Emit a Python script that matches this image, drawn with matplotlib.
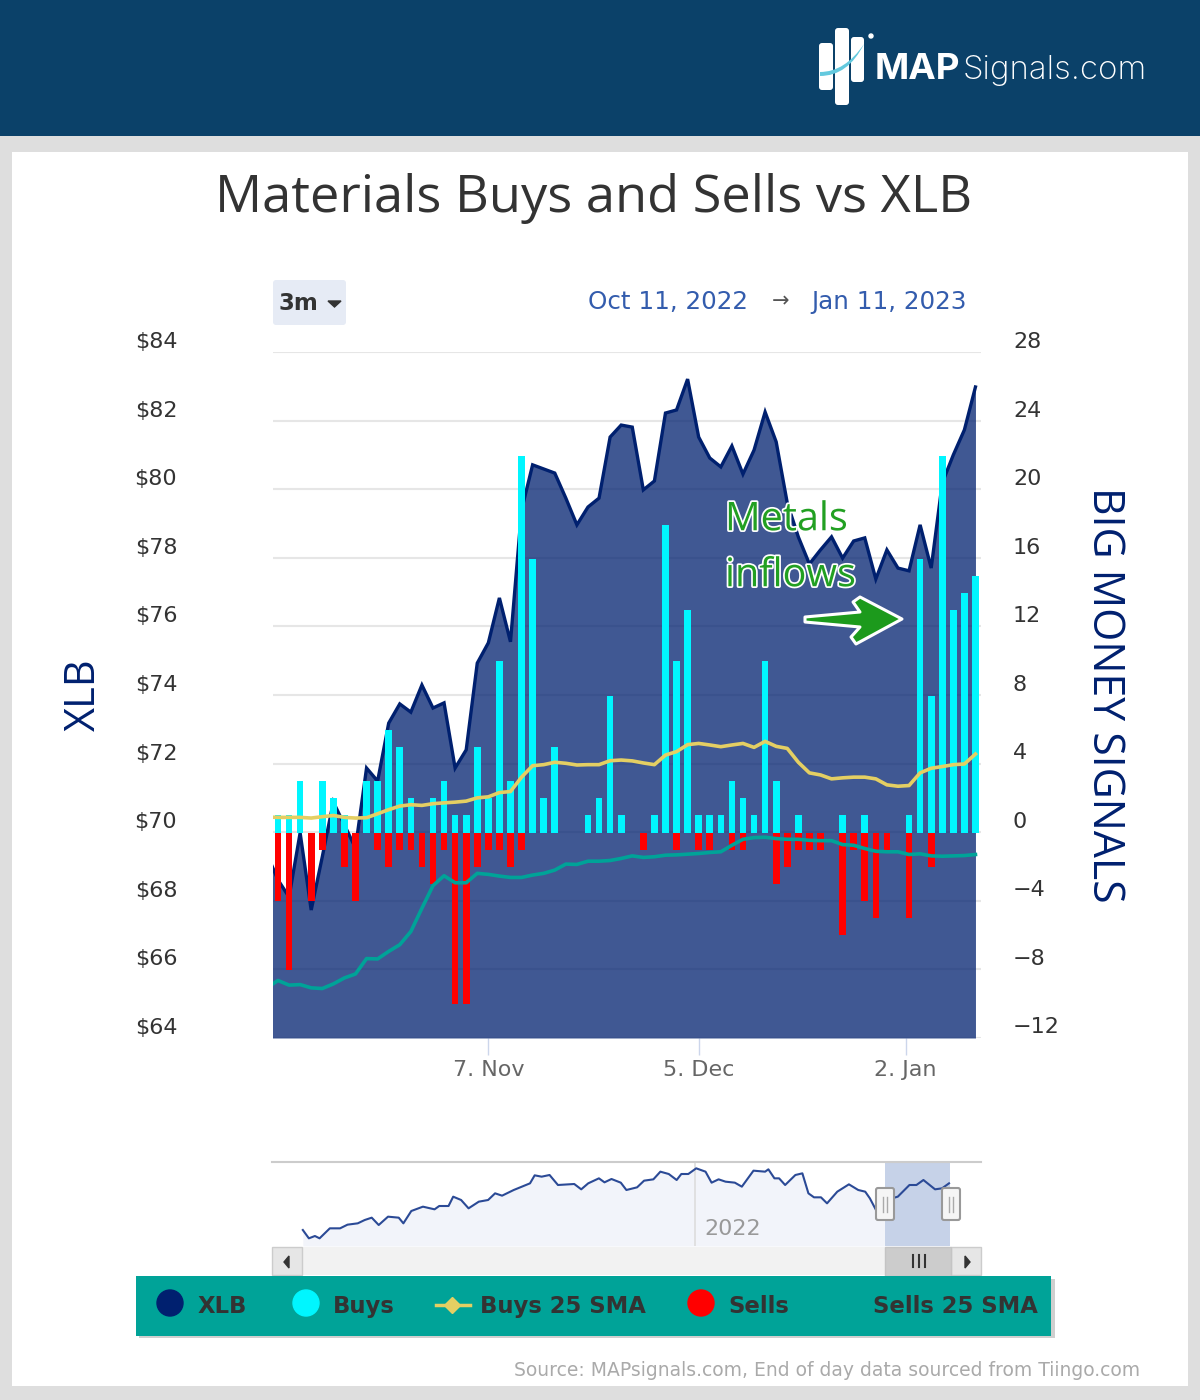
import numpy as np
import matplotlib
matplotlib.use("Agg")
import matplotlib.pyplot as plt
import matplotlib.patheffects as pe
from matplotlib.patches import Rectangle, FancyBboxPatch, Polygon, Circle, PathPatch
from matplotlib.path import Path
from matplotlib.transforms import ScaledTranslation

# trading day index, -1 is the day just left of the visible range
days = list(range(-1, 64))

xlb = [69.36, 68.61, 68.11, 69.98, 67.73, 69.28, 70.88, 70.21, 69.54, 71.87, 71.49,
       73.18, 73.74, 73.50, 74.29, 73.62, 73.77, 71.87, 72.40, 74.93, 75.52,
       76.83, 75.55, 79.39, 80.71, 80.59, 80.47, 79.74, 78.96, 79.48, 79.74,
       81.52, 81.87, 81.81, 79.98, 80.24, 82.22, 82.31, 83.21, 81.52, 80.91,
       80.65, 81.26, 80.44, 81.14, 82.25, 81.38, 79.60, 78.61, 77.82, 78.23,
       78.61, 77.99, 78.49, 78.58, 77.38, 78.23, 77.70, 77.62, 78.96, 77.70,
       80.18, 81.00, 81.73, 82.98]

buys = [1, 1, 3, 0, 3, 2, 1, 0, 3, 3, 6, 5, 2, 0, 2, 3, 1, 1, 5, 2,
        10, 3, 22, 16, 2, 5, 0, 0, 1, 2, 8, 1, 0, 0, 1, 18, 10, 13, 1, 1,
        1, 3, 2, 1, 10, 3, 0, 1, 0, 0, 0, 1, 0, 1, 0, 0, 0, 1, 16, 8,
        22, 13, 14, 15]

sells = [4, 8, 0, 4, 1, 0, 2, 4, 0, 1, 2, 1, 1, 2, 3, 1, 10, 10, 2, 1,
         1, 2, 1, 0, 0, 0, 0, 0, 0, 0, 0, 0, 0, 1, 0, 0, 1, 0, 1, 1,
         0, 1, 1, 0, 0, 3, 2, 1, 1, 1, 0, 6, 1, 4, 5, 1, 0, 5, 0, 2,
         0, 0, 0, 0]

buys_sma = [0.91, 0.89, 0.89, 0.89, 0.85, 0.93, 1.00, 0.89, 0.85, 0.87, 1.10,
            1.34, 1.55, 1.63, 1.59, 1.69, 1.74, 1.78, 1.84, 2.03, 2.09,
            2.34, 2.40, 3.24, 3.91, 3.97, 4.11, 4.05, 3.95, 3.97, 3.97,
            4.20, 4.24, 4.19, 4.07, 3.97, 4.53, 4.73, 5.14, 5.21, 5.12,
            5.02, 5.12, 5.21, 4.98, 5.33, 5.04, 4.92, 4.11, 3.49, 3.37,
            3.14, 3.20, 3.24, 3.24, 3.14, 2.79, 2.71, 2.75, 3.49, 3.76,
            3.86, 3.97, 4.01, 4.59]

sells_sma = [-9.07, -8.64, -8.91, -8.88, -9.07, -9.11, -8.84, -8.49, -8.26, -7.36, -7.38,
             -6.94, -6.55, -5.78, -4.42, -3.10, -2.52, -2.93, -2.93, -2.38, -2.44,
             -2.54, -2.62, -2.62, -2.48, -2.38, -2.19, -1.84, -1.86, -1.67, -1.67,
             -1.63, -1.51, -1.36, -1.45, -1.41, -1.32, -1.30, -1.26, -1.22, -1.16,
             -1.12, -0.74, -0.39, -0.29, -0.27, -0.35, -0.39, -0.39, -0.45, -0.47,
             -0.47, -0.70, -0.74, -0.93, -1.09, -1.12, -1.12, -1.28, -1.24, -1.36,
             -1.38, -1.36, -1.34, -1.28]

xlb_ticks = [64, 66, 68, 70, 72, 74, 76, 78, 80, 82, 84]
signal_ticks = [-12, -8, -4, 0, 4, 8, 12, 16, 20, 24, 28]
date_ticks = [19, 38, 56.7]
date_labels = ["7. Nov", "5. Dec", "2. Jan"]

# navigator: position along the ordinal axis and relative XLB level
nav_pos = [92, 105, 118, 128, 150, 172, 188, 210, 225, 240, 255, 275, 298, 308, 325, 350,
           375, 385, 405, 415, 432, 448, 470, 490, 505, 520, 545, 580, 590, 605, 622, 640,
           675, 690, 705, 728, 740, 755, 775, 787, 810, 825, 845, 860, 878, 895, 905, 920,
           937, 957, 970, 985, 1000, 1020, 1035, 1060, 1085, 1092, 1105, 1115, 1128, 1150,
           1165, 1178, 1190, 1205, 1218, 1240, 1265, 1285, 1300, 1310, 1325, 1345, 1370,
           1395, 1410, 1425, 1450, 1465, 1480]
nav_level = [60, 35, 42, 35, 65, 65, 76, 80, 90, 97, 75, 100, 97, 80, 117, 130,
             122, 132, 132, 160, 150, 125, 145, 150, 170, 163, 180, 200, 224, 220, 225, 195,
             198, 182, 200, 215, 203, 213, 202, 180, 188, 208, 212, 235, 228, 210, 228, 228,
             245, 235, 202, 212, 205, 202, 190, 238, 235, 242, 215, 215, 195, 225,
             230, 170, 158, 158, 140, 175, 197, 180, 175, 155, 115, 150, 160,
             195, 195, 210, 182, 185, 200]

NAVY = "#00206f"
CYAN = "#00f6ff"
RED = "#ff0000"
GOLD = "#e4cf63"
TEAL = "#00a398"
W, H = 1200, 1400


def rect(px, py, pw, ph):
    # pixel box (top-left origin) to figure fractions
    return [px / W, 1 - (py + ph) / H, pw / W, ph / H]


fig = plt.figure(figsize=(12, 14), dpi=100, facecolor="#dedede")

# page furniture sits on a pixel axes behind the chart
bg = fig.add_axes([0, 0, 1, 1], zorder=0)
bg.set_xlim(0, W)
bg.set_ylim(H, 0)
bg.axis("off")
bg.add_patch(Rectangle((0, 0), W, 136, color="#0b4169", lw=0))
bg.add_patch(Rectangle((12, 152), 1176, 1234, color="white", lw=0))
bg.add_patch(FancyBboxPatch((276, 283), 67, 39, boxstyle="round,pad=3", fc="#e6ebf5", ec="none"))

# main chart
ax = fig.add_axes(rect(273, 352, 708, 686), zorder=1)
ax.patch.set_visible(False)
ax.set_xlim(-0.45, 63.5)
ax.set_ylim(64, 84)
ax.set_yticks(xlb_ticks)
ax.set_yticklabels(["$%d" % v for v in xlb_ticks])
ax.grid(axis="y", color="#e6e6e6", lw=1.5)
ax.set_axisbelow(True)
for s in ax.spines.values():
    s.set_visible(False)
ax.fill_between(days, xlb, 64, color=NAVY, alpha=0.75, lw=0, zorder=2)
ax.plot(days, xlb, color=NAVY, lw=2.4, zorder=3, solid_joinstyle="miter")
ax.set_xticks(date_ticks)
ax.set_xticklabels(date_labels)
ax.tick_params(axis="x", length=12, width=1, color="#ccd6eb", pad=4, labelsize=16, labelcolor="#666666")
ax.tick_params(axis="y", length=0, pad=69, labelsize=16, labelcolor="#333333")

ax2 = ax.twinx()
ax2.set_zorder(2)
ax2.patch.set_visible(False)
ax2.set_ylim(-11.8, 28.08)
ax2.set_yticks(signal_ticks)
ax2.set_yticklabels([str(v).replace("-", "\u2212") for v in signal_ticks])
ax2.tick_params(axis="y", length=0, pad=23, labelsize=16, labelcolor="#333333")
for s in ax2.spines.values():
    s.set_visible(False)
bar_x = days[1:]
ax2.bar(bar_x, buys, width=0.6, color=CYAN, lw=0, zorder=3)
ax2.bar(bar_x, [-v for v in sells], width=0.6, color=RED, lw=0, zorder=3)
ax2.plot(days, buys_sma, color=GOLD, lw=2.6, zorder=4)
ax2.plot(days, sells_sma, color=TEAL, lw=2.6, zorder=4)

# axis labels sit just above their gridlines
up = ScaledTranslation(0, 12 / 100, fig.dpi_scale_trans)
for lb in ax.get_yticklabels():
    lb.set_transform(lb.get_transform() + up)
up2 = ScaledTranslation(0, 13 / 100, fig.dpi_scale_trans)
for lb in ax2.get_yticklabels():
    lb.set_transform(lb.get_transform() + up2)

# navigator
nav = fig.add_axes(rect(272, 1162, 709, 84), zorder=1)
nav.patch.set_visible(False)
nav.set_xlim(25.8, 1548.7)
nav.set_ylim(12, 264)
nav.set_xticks([])
nav.set_yticks([])
for k in ["left", "right", "bottom"]:
    nav.spines[k].set_visible(False)
nav.spines["top"].set_color("#cccccc")
nav.spines["top"].set_linewidth(1.5)
nav.fill_between(nav_pos, nav_level, 12, color="#f2f4fa", lw=0, zorder=1)
nav.axvline(935, color="#dddddd", lw=1.2, zorder=1.5)
nav.axvspan(1343, 1483, color="#c6d2e8", lw=0, zorder=2)
nav.plot(nav_pos, nav_level, color="#2b4a96", lw=1.5, zorder=3)

# everything drawn over the chart
fg = fig.add_axes([0, 0, 1, 1], zorder=5)
fg.set_xlim(0, W)
fg.set_ylim(H, 0)
fg.axis("off")
fg.patch.set_visible(False)


def txt(x, y, s, **kw):
    kw.setdefault("va", "center")
    return fg.text(x, y, s, **kw)


# logo
for x0, y0, w0, h0 in [(819, 43, 14, 47), (835, 28, 14, 77), (851, 37, 13, 45)]:
    fg.add_patch(FancyBboxPatch((x0 + 3, y0 + 3), w0 - 6, h0 - 6, boxstyle="round,pad=3", fc="white", ec="none"))
fg.add_patch(PathPatch(Path([(820, 72), (845, 72), (864, 44), (864, 44), (848, 76), (820, 76), (820, 72)],
                            [1, 3, 3, 2, 3, 3, 2]), fc="#63c9de", ec="none"))
fg.add_patch(Circle((871, 36), 2, color="white"))
txt(875, 79, "MAP", family="Inter", weight="bold", size=26.5, color="white", va="baseline")
txt(963, 79, "Signals.com", family="Inter", weight="light", size=23.8, color="white", va="baseline")

txt(594, 198, "Materials Buys and Sells vs XLB", family="Open Sans", size=37.7, color="#333333", ha="center")

# range selector
txt(278, 303, "3m", family="DejaVu Sans", weight="bold", size=16.5, color="#333333")
fg.add_patch(Polygon([(328, 301), (341, 301), (334.5, 307)], color="#333333"))
txt(588, 302, "Oct 11, 2022", family="DejaVu Sans", size=17.7, color="#335cad")
txt(781, 301, "\u2192", family="DejaVu Sans", size=15, color="#555555", ha="center")
txt(811, 302, "Jan 11, 2023", family="DejaVu Sans", size=17.7, color="#335cad")

txt(84, 695, "XLB", family="Open Sans", size=30, color=NAVY, rotation=90, ha="center")
txt(1104, 695, "BIG MONEY SIGNALS", family="Open Sans", size=30.8, color=NAVY, rotation=270, ha="center")

# hand drawn note
halo = [pe.withStroke(linewidth=2.5, foreground="white")]
txt(725, 520, "Metals", family="Open Sans", size=28.5, color="#22a022", path_effects=halo)
txt(725, 576, "inflows", family="Open Sans", size=28.5, color="#22a022", path_effects=halo)
fg.add_patch(Polygon([(805, 617), (860, 612), (853, 602), (860, 597), (902, 619), (856, 644),
                      (851, 637), (860, 627), (805, 622)],
                     fc="#1c9a1c", ec="white", lw=2.2, joinstyle="round"))

txt(704, 1229, "2022", family="DejaVu Sans", size=16, color="#999999")

# scrollbar
fg.add_patch(Rectangle((272, 1247), 709, 28, color="#f2f2f2", lw=0))
fg.add_patch(Rectangle((272, 1247), 30, 28, fc="#e6e6e6", ec="#cccccc", lw=1))
fg.add_patch(Rectangle((951, 1247), 30, 28, fc="#e6e6e6", ec="#cccccc", lw=1))
fg.add_patch(Rectangle((885, 1247), 66, 29, fc="#cccccc", ec="#c4c4c4", lw=1))
fg.add_patch(Polygon([(289, 1256), (289, 1268), (284, 1262)], color="#333333"))
fg.add_patch(Polygon([(965, 1256), (965, 1268), (970, 1262)], color="#333333"))
for x0 in (913, 919, 925):
    fg.plot([x0, x0], [1255, 1267], color="#333333", lw=1.5)
for cx in (885, 951):
    fg.add_patch(FancyBboxPatch((cx - 7, 1190), 14, 28, boxstyle="round,pad=2", fc="#f5f5f5", ec="#999999", lw=1.5))
    for dx in (-2, 2):
        fg.plot([cx + dx, cx + dx], [1197, 1212], color="#aaaaaa", lw=1)

# legend band
fg.add_patch(Rectangle((139, 1279), 916, 59, color="#cfcfcf", lw=0))
fg.add_patch(Rectangle((136, 1276), 915, 60, color=TEAL, lw=0))
fg.add_patch(Circle((170, 1303), 13, color=NAVY))
fg.add_patch(Circle((306, 1303), 13, color=CYAN))
fg.add_patch(Circle((701, 1303), 13, color=RED))
fg.plot([436, 470], [1305, 1305], color=GOLD, lw=2.5)
fg.plot([452], [1305], marker="D", color=GOLD, ms=8)
legend_x = [198, 333, 480, 728, 873]
legend_names = ["XLB", "Buys", "Buys 25 SMA", "Sells", "Sells 25 SMA"]
for lx, name in zip(legend_x, legend_names):
    txt(lx, 1313, name, family="DejaVu Sans", weight="bold", size=16.4, color="#333333", va="baseline")

txt(1140, 1371, "Source: MAPsignals.com, End of day data sourced from Tiingo.com",
    family="DejaVu Sans", size=13.5, color="#aaaaaa", ha="right")

fig.savefig("out.png", dpi=100, facecolor=fig.get_facecolor())
